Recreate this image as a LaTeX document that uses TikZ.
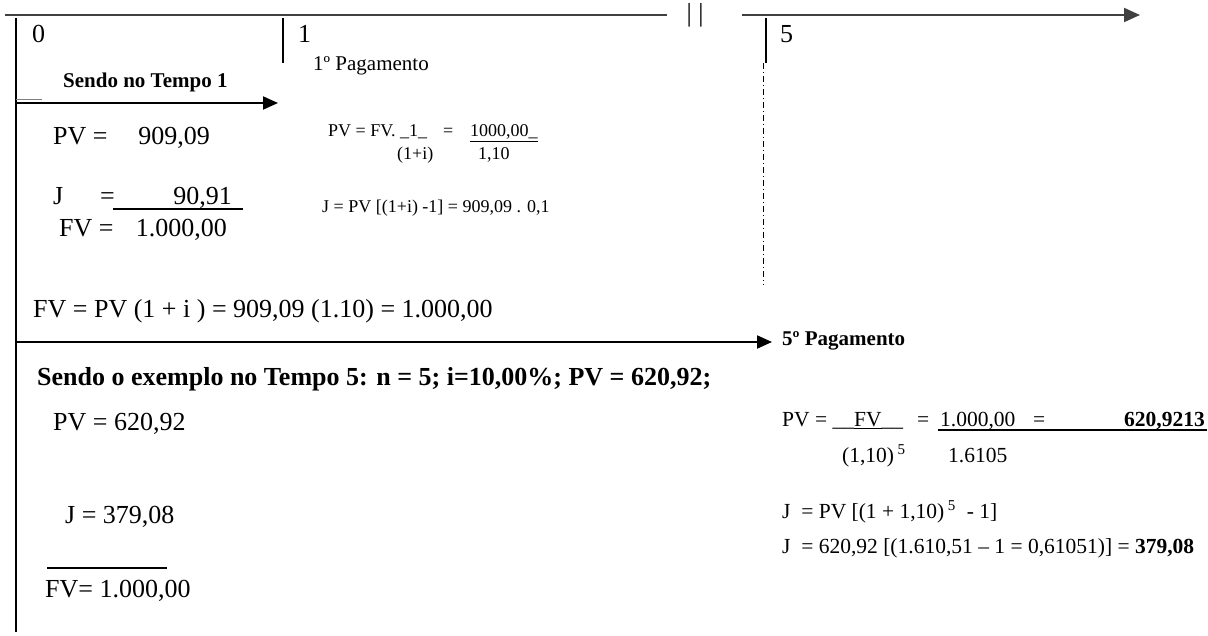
\documentclass[tikz,border=0pt]{standalone}
\usepackage{fontspec}
\setmainfont{Liberation Serif}
\usetikzlibrary{arrows.meta}

\tikzset{
  big/.style={font=\fontsize{26}{30}\selectfont,inner sep=0pt,anchor=base west},
  mid/.style={font=\fontsize{21.5}{25}\selectfont,inner sep=0pt,anchor=base west},
  sml/.style={font=\fontsize{18}{22}\selectfont,inner sep=0pt,anchor=base west},
  ttl/.style={font=\fontsize{21}{25}\selectfont\bfseries,inner sep=0pt,anchor=base west},
  axis/.style={line width=2pt},
  dashdot/.style={line width=0.8pt,dash pattern=on 6pt off 3pt on 1pt off 3pt},
}

\begin{document}
\begin{tikzpicture}[x=1pt,y=1pt,>={Triangle[length=16pt,width=14pt]}]
\useasboundingbox (0,0) rectangle (1208,-636);
% time line
\coordinate (a0) at (5,-15);
\coordinate (a1) at (667,-15);
\coordinate (b0) at (742,-15);
\coordinate (b1) at (1140,-15);
\draw[axis,black!75] (a0) -- (a1);
\draw[axis,black!75,->] (b0) -- (b1);
\node[big,anchor=center] (brk) at (695,-15) {| |};
\coordinate (v0) at (16,-18);
\coordinate (v1) at (16,-632);
\draw[axis] (v0) -- (v1);
\coordinate (t1a) at (283,-18);
\coordinate (t1b) at (283,-63);
\draw[axis] (t1a) -- (t1b);
\coordinate (t5a) at (766,-18);
\coordinate (t5b) at (766,-63);
\draw[axis] (t5a) -- (t5b);
\coordinate (d5a) at (763,-63);
\coordinate (d5b) at (763,-285);
\draw[dashdot] (d5a) -- (d5b);
\node[big] (n0) at (32,-43) {0};
\node[big] (n1) at (298,-43) {1};
\node[big] (n5) at (780,-43) {5};
\node[sml,font=\fontsize{21}{25}\selectfont] (pg1) at (313,-71) {1º Pagamento};

% tempo 1
\node[ttl] (tit1) at (63,-88) {Sendo no Tempo 1};
\coordinate (s1a) at (16,-103);
\coordinate (s1b) at (278,-103);
\draw[axis,->,>={Triangle[length=15pt,width=13pt]}] (s1a) -- (s1b);
\coordinate (g1a) at (16,-100);
\coordinate (g1b) at (42,-100);
\draw[gray,line width=1pt] (g1a) -- (g1b);
\node[big] (pv1) at (53,-145) {PV =};
\node[big,anchor=base east] (pv1v) at (210,-145) {909,09};
\node[big] (j1) at (53,-205) {J};
\node[big] (j1eq) at (100,-205) {=};
\node[big,anchor=base east] (j1v) at (232,-205) {90,91};
\coordinate (u1a) at (113,-209);
\coordinate (u1b) at (243,-209);
\draw[line width=1.5pt] (u1a) -- (u1b);
\node[big] (fv1) at (59,-237) {FV =};
\node[big,anchor=base east] (fv1v) at (227,-237) {1.000,00};
\node[sml] (f1) at (328,-137) {PV = FV. \_1\_};
\node[sml] (f1eq) at (443,-137) {=};
\node[sml] (f1n) at (470,-137) {\underline{1000,00\_}};
\node[sml] (f1d) at (397,-160) {(1+i)};
\node[sml] (f1e) at (478,-160) {1,10};
\node[sml] (f2) at (322,-213) {J = PV [(1+i) -1] = 909,09 . 0,1};
\node[big] (fvl) at (33,-318) {FV = PV (1 + i ) = 909,09 (1.10) = 1.000,00};
\coordinate (s2a) at (16,-342);
\coordinate (s2b) at (772,-342);
\draw[axis,->,>={Triangle[length=15pt,width=13pt]}] (s2a) -- (s2b);

% tempo 5
\node[ttl] (pg5) at (782,-345) {5º Pagamento};
\node[big,font=\fontsize{26}{30}\selectfont\bfseries] (tit5) at (37,-385) {Sendo o exemplo no Tempo 5: n = 5; i=10,00\%; PV = 620,92;};
\node[big] (pv5) at (53,-430) {PV = 620,92};
\node[big] (j5) at (65,-523) {J = 379,08};
\coordinate (o5a) at (47,-568);
\coordinate (o5b) at (167,-568);
\draw[line width=1.5pt] (o5a) -- (o5b);
\node[big] (fv5) at (45,-597) {FV= 1.000,00};
\node[mid] (r1) at (782,-426) {PV = \_\_\underline{FV}\_\_};
\node[mid] (r1eq) at (917,-426) {=};
\node[mid] (r1n) at (940,-426) {1.000,00};
\node[mid] (r1eq2) at (1033,-426) {=};
\node[mid,anchor=base east] (r1v) at (1205,-426) {\textbf{620,9213}};
\coordinate (u5a) at (938,-430);
\coordinate (u5b) at (1207,-430);
\draw[line width=1.5pt] (u5a) -- (u5b);
\node[mid] (r1d) at (842,-462) {(1,10)\,\textsuperscript{5}};
\node[mid] (r1e) at (948,-462) {1.6105};
\node[mid] (r2) at (782,-518) {J\ \ = PV [(1 + 1,10)\,\textsuperscript{5}\ \ - 1]};
\node[mid] (r3) at (782,-553) {J\ \ = 620,92 [(1.610,51 – 1 = 0,61051)] = \textbf{379,08}};
\end{tikzpicture}
\end{document}
